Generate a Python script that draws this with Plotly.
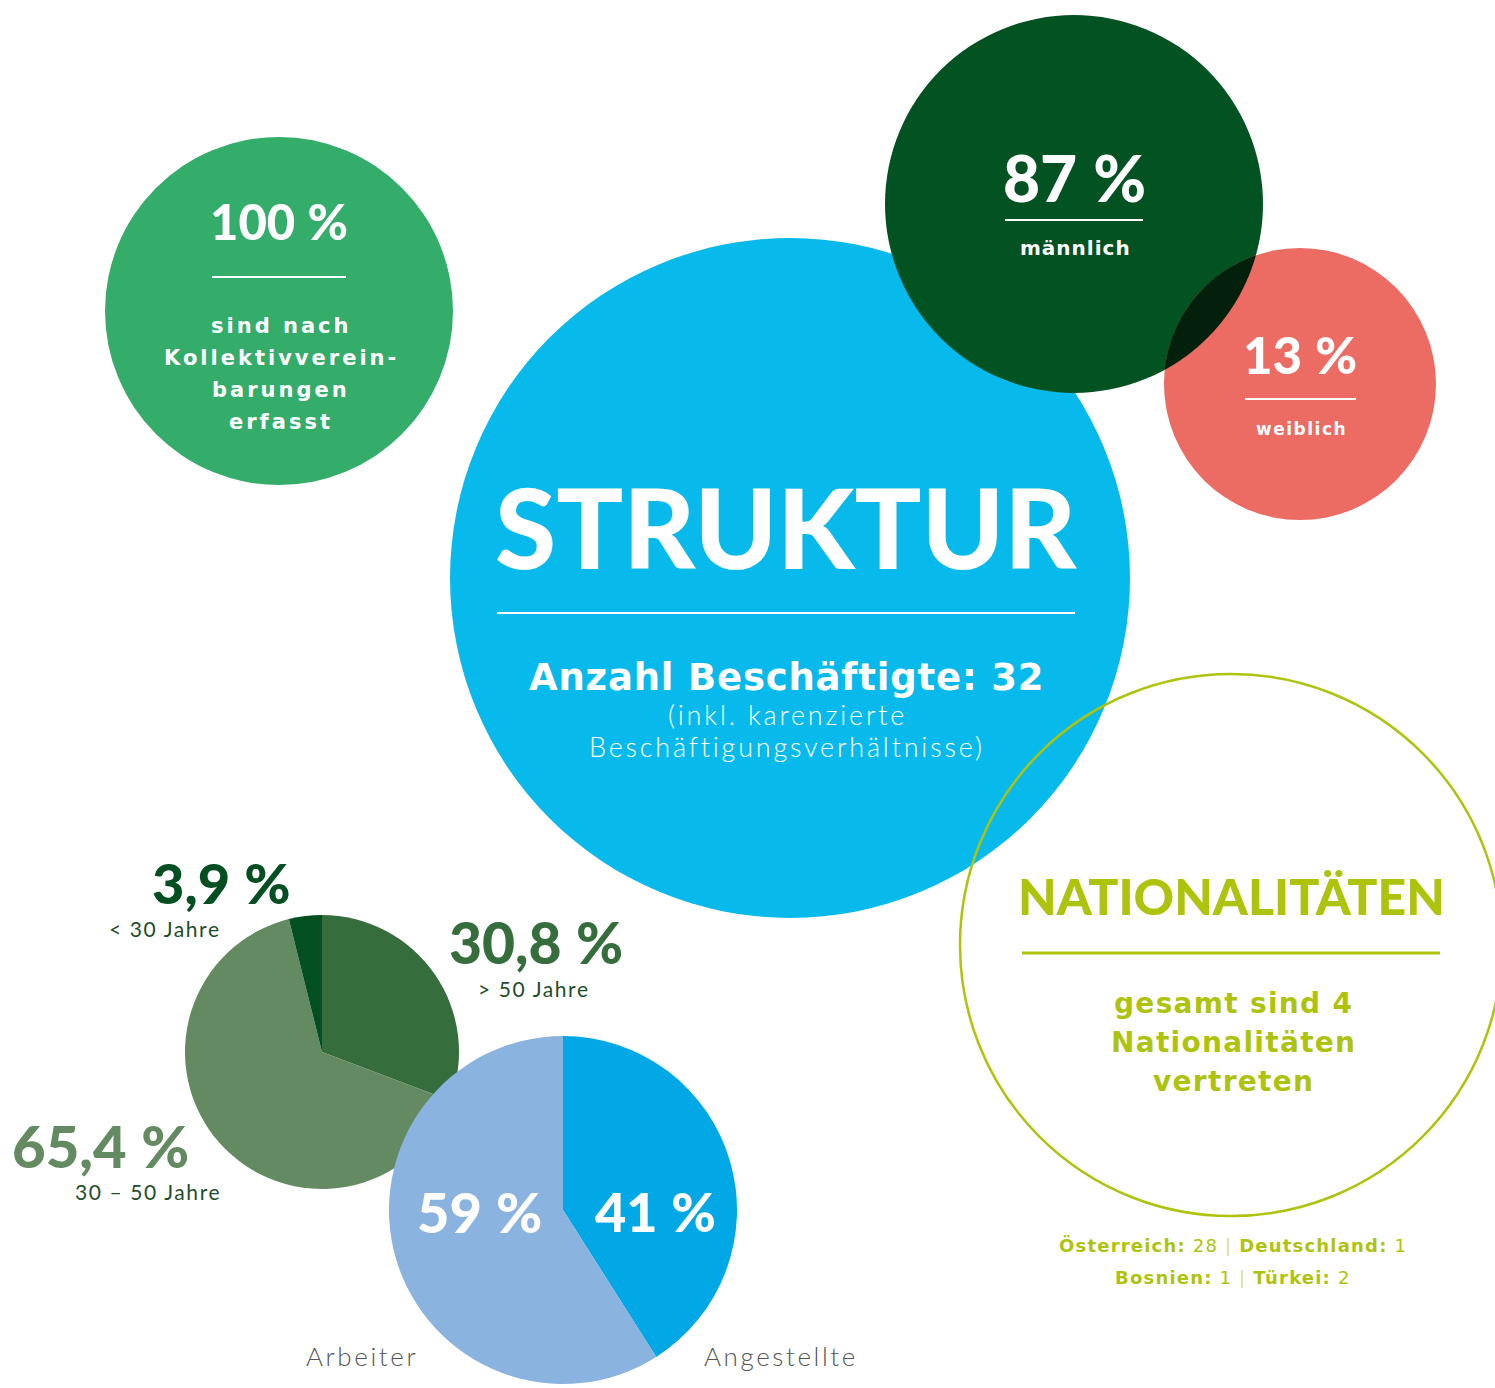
import math
import plotly.graph_objects as go

# ---------------- data ----------------
kv_share = 100                     # % covered by collective agreements
employees = 32
gender_labels = ["männlich", "weiblich"]
gender_values = [87, 13]
age_labels = ["> 50 Jahre", "30 – 50 Jahre", "< 30 Jahre"]
age_values = [30.8, 65.4, 3.9]
type_labels = ["Angestellte", "Arbeiter"]
type_values = [41, 59]
nation_labels = ["Österreich", "Deutschland", "Bosnien", "Türkei"]
nation_counts = [28, 1, 1, 2]

W, H = 1495, 1388

C_KV = "#34ad6a"
C_BLUE = "#08baeb"
C_MALE = "#035221"
C_FEMALE = "#ec6b63"
C_OVER = "#03200d"
C_LIME = "#aec30e"
AGE_COLORS = ["#356d3c", "#638a61", "#034f21"]
TYPE_COLORS = ["#02a8e5", "#8ab3e0"]
NS = "\u202f"  # narrow space before %


def pct(v, dec=0):
    s = f"{v:.{dec}f}".replace(".", ",")
    return s + NS + "%"


fig = go.Figure()
shapes = []


def circle(cx, cy, r, fill=None, line=None, lw=0):
    shapes.append(dict(type="circle", xref="x", yref="y", x0=cx - r, x1=cx + r,
                       y0=cy - r, y1=cy + r, layer="below",
                       fillcolor=fill if fill else "rgba(0,0,0,0)",
                       line=dict(color=line if line else "rgba(0,0,0,0)", width=lw)))


def hline(x0, x1, y, color, w=2):
    shapes.append(dict(type="line", xref="x", yref="y", x0=x0, x1=x1, y0=y, y1=y,
                       layer="below", line=dict(color=color, width=w)))


# circles
circle(279, 311, 174, fill=C_KV)
circle(790, 578, 340, fill=C_BLUE)
circle(1231, 945, 271, line=C_LIME, lw=2.5)
m = (1074, 204, 189)
f = (1300, 384, 136)
circle(*m, fill=C_MALE)
circle(*f, fill=C_FEMALE)

# overlap lens (multiply-like darker region)
pts = []
for i in range(720):
    t = 2 * math.pi * i / 720
    x, y = m[0] + m[2] * math.cos(t), m[1] + m[2] * math.sin(t)
    if math.hypot(x - f[0], y - f[1]) <= f[2]:
        pts.append((x, y))
    x, y = f[0] + f[2] * math.cos(t), f[1] + f[2] * math.sin(t)
    if math.hypot(x - m[0], y - m[1]) <= m[2]:
        pts.append((x, y))
cx = sum(p[0] for p in pts) / len(pts)
cy = sum(p[1] for p in pts) / len(pts)
pts.sort(key=lambda p: math.atan2(p[1] - cy, p[0] - cx))
path = "M " + " L ".join(f"{x:.2f},{y:.2f}" for x, y in pts) + " Z"
shapes.append(dict(type="path", xref="x", yref="y", path=path, layer="below",
                   fillcolor=C_OVER, line=dict(width=0)))

# separator lines
hline(212, 346, 277, "white", 2)
hline(1005, 1143, 220, "white", 2)
hline(1245, 1356, 399, "white", 2)
hline(497, 1075, 613, "white", 2)
hline(1022, 1440, 953, C_LIME, 3)


# pies
def dom(cx, cy, r):
    return dict(x=[(cx - r) / W, (cx + r) / W], y=[1 - (cy + r) / H, 1 - (cy - r) / H])


fig.add_trace(go.Pie(labels=age_labels, values=age_values, sort=False,
                     direction="clockwise", rotation=0, textinfo="none",
                     marker=dict(colors=AGE_COLORS, line=dict(width=0)),
                     domain=dom(322, 1052, 137), showlegend=False, hoverinfo="label+value"))
fig.add_trace(go.Pie(labels=type_labels, values=type_values, sort=False,
                     direction="clockwise", rotation=0, textinfo="none",
                     marker=dict(colors=TYPE_COLORS, line=dict(width=0)),
                     domain=dom(563, 1210, 174), showlegend=False, hoverinfo="label+value"))

ann = []


def txt(x, y, s, size, color, family="DejaVu Sans", weight="normal", ls=0):
    if ls:
        s = f"<span style='letter-spacing:{ls}px'>{s}</span>"
    ann.append(dict(x=x, y=y, xref="x", yref="y", text=s, showarrow=False,
                    xanchor="center", yanchor="middle",
                    font=dict(size=size, color=color, family=family, weight=weight)))


HEAD = "Lato"
LIGHT = "Lato"
# KV circle
txt(279, 221, pct(kv_share), 49, "white", HEAD, 900)
for yy, s in zip([326, 358, 390, 422], ["sind nach", "Kollektivverein-", "barungen", "erfasst"]):
    txt(281, yy, s, 21, "white", "DejaVu Sans", "bold", ls=3)

# gender
txt(1074, 177, pct(gender_values[0]), 64, "white", HEAD, 900)
txt(1075, 248, gender_labels[0], 20, "white", "DejaVu Sans", "bold", ls=1)
txt(1300, 354, pct(gender_values[1]), 51, "white", HEAD, 900)
txt(1301, 429, gender_labels[1], 17, "white", "DejaVu Sans", "bold", ls=1.5)

# STRUKTUR
txt(786, 526, "STRUKTUR", 111, "white", HEAD, 900)
txt(786, 677, f"Anzahl Beschäftigte: {employees}", 37, "white", "DejaVu Sans", "bold", ls=0.8)
txt(787, 714, "(inkl. karenzierte", 27, "white", LIGHT, 300, ls=2.8)
txt(787, 746, "Beschäftigungsverhältnisse)", 27, "white", LIGHT, 300, ls=2.8)

# Nationalitäten
txt(1231, 896, "NATIONALITÄTEN", 50, C_LIME, HEAD, 900)
for yy, s in zip([1003, 1042, 1081], [f"gesamt sind {len(nation_labels)}", "Nationalitäten", "vertreten"]):
    txt(1233, yy, s, 28, C_LIME, "DejaVu Sans", "bold", ls=1.3)
sep = " <span style='color:#d3dd8a'>|</span> "
line1 = (f"<b>{nation_labels[0]}:</b> {nation_counts[0]}" + sep +
         f"<b>{nation_labels[1]}:</b> {nation_counts[1]}")
line2 = (f"<b>{nation_labels[2]}:</b> {nation_counts[2]}" + sep +
         f"<b>{nation_labels[3]}:</b> {nation_counts[3]}")
txt(1233, 1245, line1, 18, C_LIME, "DejaVu Sans", "normal", ls=1.2)
txt(1233, 1277, line2, 18, C_LIME, "DejaVu Sans", "normal", ls=1.2)

# age labels
SUB = "#1f4d2a"
txt(221, 882, pct(age_values[2], 1), 56, AGE_COLORS[2], HEAD, 900)
txt(165, 928, "< 30 Jahre", 21, SUB, LIGHT, 400, ls=1.6)
txt(536, 942, pct(age_values[0], 1), 57, AGE_COLORS[0], HEAD, 900)
txt(534, 988, "> 50 Jahre", 21, SUB, LIGHT, 400, ls=1.6)
txt(100, 1145, pct(age_values[1], 1), 58, AGE_COLORS[1], HEAD, 900)
txt(148, 1191, "30 – 50 Jahre", 21, SUB, LIGHT, 400, ls=1.6)

# employee type
txt(479, 1211, pct(type_values[1]), 56, "white", HEAD, 900)
txt(655, 1211, pct(type_values[0]), 54, "white", HEAD, 900)
txt(362, 1356, type_labels[1], 26, "#555555", LIGHT, 300, ls=2.6)
txt(781, 1356, type_labels[0], 26, "#555555", LIGHT, 300, ls=2.6)

fig.update_layout(
    width=W, height=H, margin=dict(l=0, r=0, t=0, b=0),
    paper_bgcolor="white", plot_bgcolor="white",
    xaxis=dict(range=[0, W], visible=False, fixedrange=True),
    yaxis=dict(range=[H, 0], visible=False, fixedrange=True),
    shapes=shapes, annotations=ann, showlegend=False,
)

fig.write_html("out.html", config={"displayModeBar": False},
               post_script="document.body.style.margin='0';document.body.style.overflow='hidden';")
